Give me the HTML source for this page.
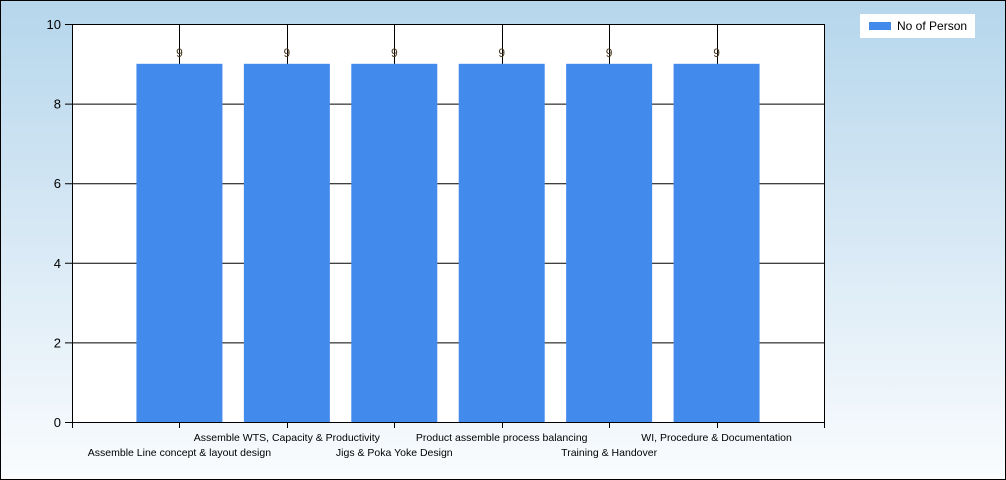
<!DOCTYPE html>
<html><head><style>
body{margin:0;}
#wrap{position:relative;width:1006px;height:480px;box-sizing:border-box;border:1px solid #000;background:linear-gradient(#b6d6ec,#fafcfe);font-family:"Liberation Sans",sans-serif;overflow:hidden}
</style></head><body>
<div id="wrap">
<svg id="chart" width="1006" height="480" style="position:absolute;left:-1px;top:-1px"></svg>
<div style="position:absolute;left:859px;top:13px;width:115px;height:24px;background:#fff;font-size:12px;">
<div style="position:absolute;left:9px;top:8px;width:22px;height:8px;background:#428bed"></div>
<div style="position:absolute;left:37px;top:5px;color:#000">No of Person</div>
</div>
</div>
<script>
const categories=["Assemble Line concept & layout design","Assemble WTS, Capacity & Productivity","Jigs & Poka Yoke Design","Product assemble process balancing","Training & Handover","WI, Procedure & Documentation"];
const values=[9,9,9,9,9,9];
const yTicks=[0,2,4,6,8,10];
const NS="http://www.w3.org/2000/svg";
const svg=document.getElementById('chart');
const L=72,R=824,T=24,B=422,yMax=10;
const n=categories.length;
const step=(R-L)/(n+1);
const x=i=>L+(i+1)*step;
const y=v=>B-(v/yMax)*(B-T);
function mk(t,a){const e=document.createElementNS(NS,t);for(const k in a)e.setAttribute(k,a[k]);svg.appendChild(e);return e;}
let bg=mk('rect',{x:L,y:T,width:R-L,height:B-T,fill:'#fff'});


yTicks.forEach(v=>{
 let g=mk('line',{x1:L-7,x2:R,y1:y(v)+.5,y2:y(v)+.5,stroke:'#000'});
 
 
 let t=mk('text',{x:L-11,y:y(v)+5,'text-anchor':'end','font-size':'13',fill:'#000'});
 t.textContent=v;
 
 
});
for(let i=-1;i<=n;i++){
 const xx=Math.round(L+(i+1)*step)+.5;
 let tk=mk('line',{x1:xx,x2:xx,y1:B,y2:B+6,stroke:'#000'});
 
 
 if(i>=0&&i<n){
  let g=mk('line',{x1:xx,x2:xx,y1:T,y2:B,stroke:'#000'});
  
  
 }
}
const bw=86;
values.forEach((v,i)=>{
 let r=mk('rect',{x:x(i)-bw/2,y:y(v),width:bw,height:B-y(v),fill:'#428bed'});
 
 
 let t=mk('text',{x:x(i),y:y(v)-7,'text-anchor':'middle','font-size':'12',fill:'#4a3a20'});
 t.textContent=v;
 
 
 let c=mk('text',{x:x(i),y:(i%2?441:456),'text-anchor':'middle','font-size':'10.5',fill:'#000'});
 c.textContent=categories[i];
 
 
});
let ax=mk('rect',{x:L+.5,y:T+.5,width:R-L,height:B-T,fill:'none',stroke:'#000'});


</script>
</body></html>
